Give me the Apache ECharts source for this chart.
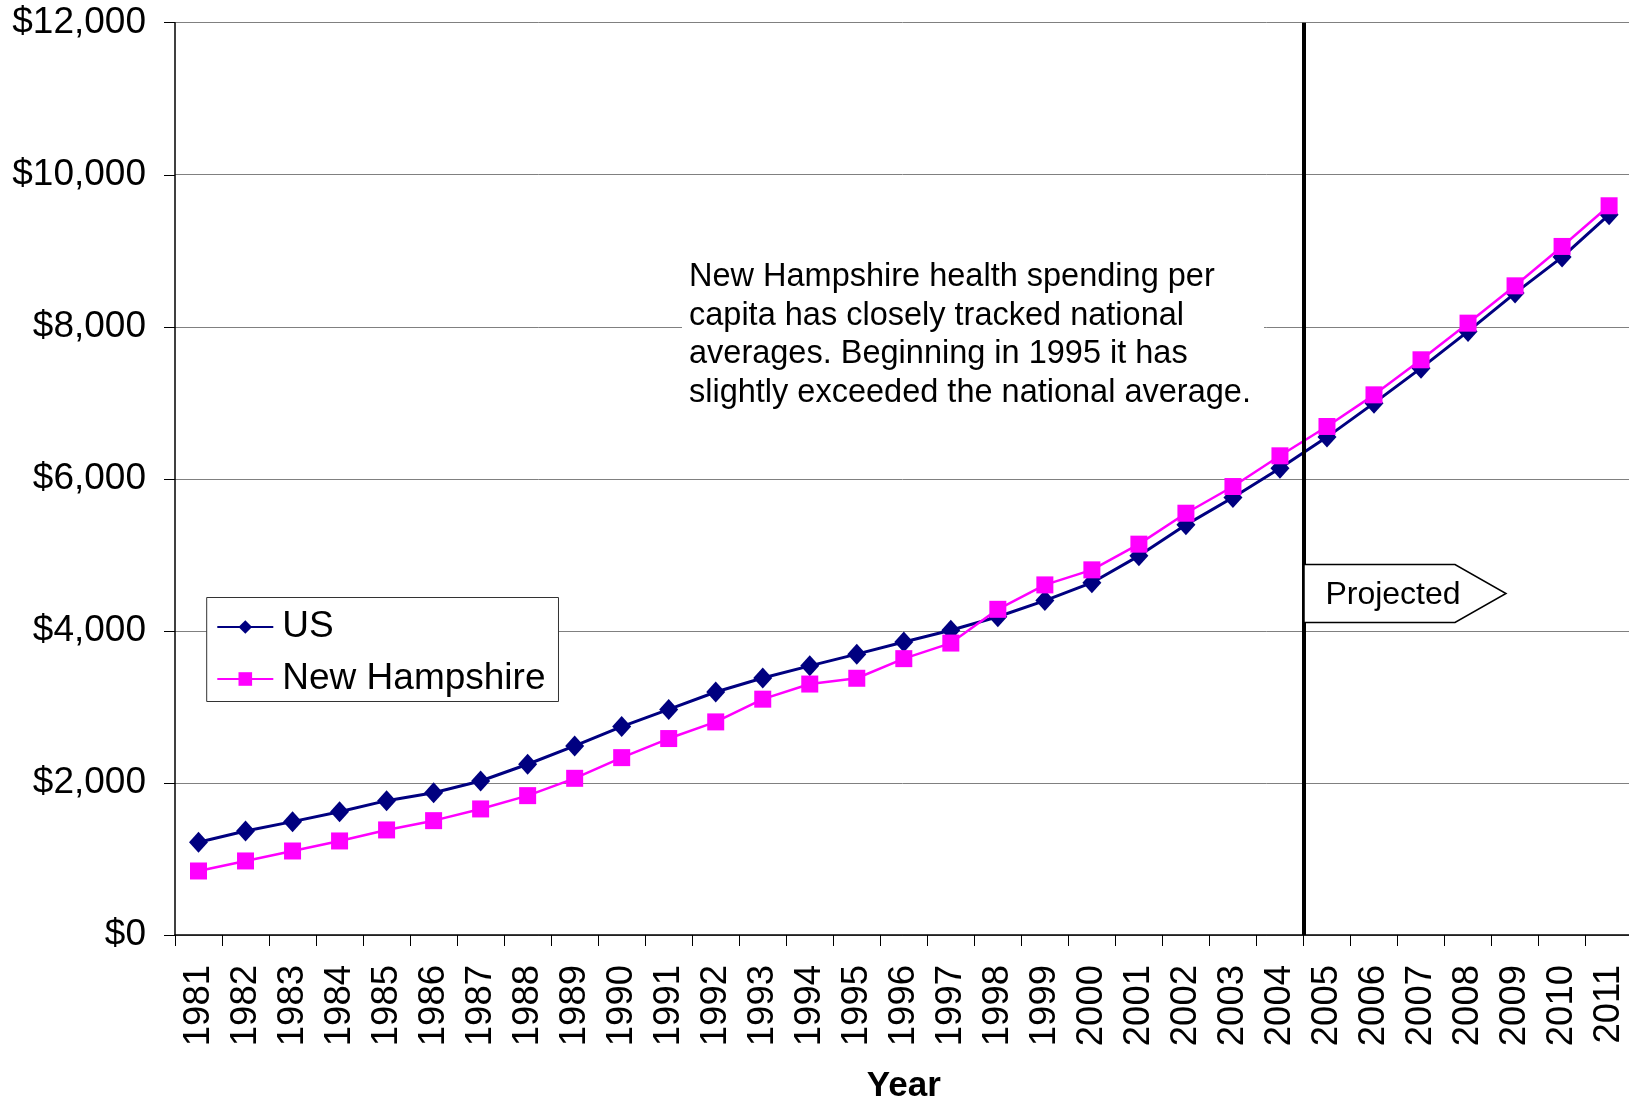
<!DOCTYPE html>
<html>
<head>
<meta charset="utf-8">
<script src="https://cdn.jsdelivr.net/npm/echarts@6/dist/echarts.min.js"></script>
<style>
  html, body { margin: 0; padding: 0; background: #fff; }
  #chart { width: 1629px; height: 1101px; }
</style>
</head>
<body>
<div id="chart"></div>
<script>
// per-capita health spending
const years = ['1981','1982','1983','1984','1985','1986','1987','1988','1989','1990',
  '1991','1992','1993','1994','1995','1996','1997','1998','1999','2000',
  '2001','2002','2003','2004','2005','2006','2007','2008','2009','2010','2011'];
const usSpending = [1220, 1368, 1491, 1622, 1767, 1872, 2026, 2246, 2487, 2741,
  2967, 3196, 3381, 3540, 3694, 3855, 4009, 4186, 4399, 4634,
  4987, 5395, 5754, 6140, 6549, 6996, 7456, 7939, 8443, 8917, 9474];
const nhSpending = [842, 974, 1105, 1237, 1382, 1504, 1658, 1833, 2061, 2333,
  2584, 2803, 3102, 3301, 3377, 3635, 3840, 4284, 4605, 4803,
  5141, 5548, 5899, 6303, 6689, 7105, 7566, 8048, 8539, 9057, 9592];
const projectedFrom = 24; // boundary between 2004 and 2005

const FONT = '"Liberation Sans", Arial, sans-serif';
const note = [
  'New Hampshire health spending per',
  'capita has closely tracked national',
  'averages. Beginning in 1995 it has',
  'slightly exceeded the national average.'
].join('\n');

const chart = echarts.init(document.getElementById('chart'));

chart.setOption({
  animation: false,
  backgroundColor: '#fff',
  textStyle: { fontFamily: FONT },
  // plot runs a few px past the right edge, like the original, so don't let v6 shrink it
  grid: { left: 175, top: 22.7, height: 912.3, width: 1457.6, outerBoundsMode: 'none', containLabel: false },
  legend: {
    data: ['US', 'New Hampshire'],
    orient: 'vertical',
    left: 206.7,
    top: 597.5,
    padding: [11, 13, 4, 9.6],
    itemGap: 15,
    itemWidth: 56,
    itemHeight: 17,
    backgroundColor: '#fff',
    borderColor: '#333',
    borderWidth: 1,
    borderRadius: 0,
    textStyle: { fontSize: 37, color: '#000', fontFamily: FONT, padding: [0, 0, 0, 4] }
  },
  xAxis: [
    {
      type: 'category',
      data: years,
      boundaryGap: true,
      name: 'Year',
      nameLocation: 'middle',
      nameGap: 134,
      nameTextStyle: { fontSize: 35, fontWeight: 'bold', color: '#000', fontFamily: FONT },
      axisLine: { lineStyle: { color: '#000', width: 1.5 } },
      axisTick: { show: true, length: 11, lineStyle: { color: '#000' } },
      axisLabel: { rotate: 90, fontSize: 36.5, color: '#000', margin: 30, interval: 0, fontFamily: FONT },
      splitLine: { show: false }
    },
    {
      // hidden value axis, used only to put the "projected" divider on a category boundary
      type: 'value',
      min: 0,
      max: years.length,
      show: false
    }
  ],
  yAxis: {
    type: 'value',
    min: 0,
    max: 12000,
    interval: 2000,
    axisLine: { show: true, lineStyle: { color: '#000', width: 1.5 } },
    axisTick: { show: true, length: 11, lineStyle: { color: '#000' } },
    axisLabel: {
      fontSize: 37,
      color: '#000',
      margin: 29,
      padding: [4, 0, 0, 0],
      fontFamily: FONT,
      formatter: v => '$' + v.toLocaleString('en-US')
    },
    splitLine: { lineStyle: { color: '#808080', width: 1 } }
  },
  series: [
    {
      name: 'US',
      type: 'line',
      data: usSpending,
      symbol: 'diamond',
      symbolSize: [19, 21],
      color: '#000080',
      lineStyle: { color: '#000080', width: 3 },
      itemStyle: { color: '#000080' },
      z: 3
    },
    {
      name: 'New Hampshire',
      type: 'line',
      data: nhSpending,
      symbol: 'rect',
      symbolSize: 17,
      color: '#ff00ff',
      lineStyle: { color: '#ff00ff', width: 2.5 },
      itemStyle: { color: '#ff00ff' },
      z: 4
    },
    {
      name: 'divider',
      type: 'line',
      xAxisIndex: 1,
      data: [],
      markLine: {
        silent: true,
        symbol: 'none',
        label: { show: false },
        lineStyle: { color: '#000', width: 4, type: 'solid' },
        data: [{ xAxis: projectedFrom }]
      }
    }
  ],
  graphic: [
    {
      type: 'rect',
      z: 10,
      shape: { x: 682, y: 250, width: 582, height: 166 },
      style: { fill: '#fff' }
    },
    {
      type: 'text',
      z: 11,
      x: 689,
      y: 258,
      style: {
        text: note,
        font: '32.5px ' + FONT,
        lineHeight: 38.5,
        fill: '#000',
        verticalAlign: 'top',
        align: 'left'
      }
    },
    {
      type: 'polygon',
      z: 10,
      shape: { points: [[1304, 564.5], [1455, 564.5], [1506, 593.5], [1455, 622.5], [1304, 622.5]] },
      style: { fill: '#fff', stroke: '#000', lineWidth: 1.5 }
    },
    {
      type: 'text',
      z: 11,
      x: 1393,
      y: 595,
      style: {
        text: 'Projected',
        font: '32px ' + FONT,
        fill: '#000',
        align: 'center',
        verticalAlign: 'middle'
      }
    }
  ]
});
</script>
</body>
</html>
